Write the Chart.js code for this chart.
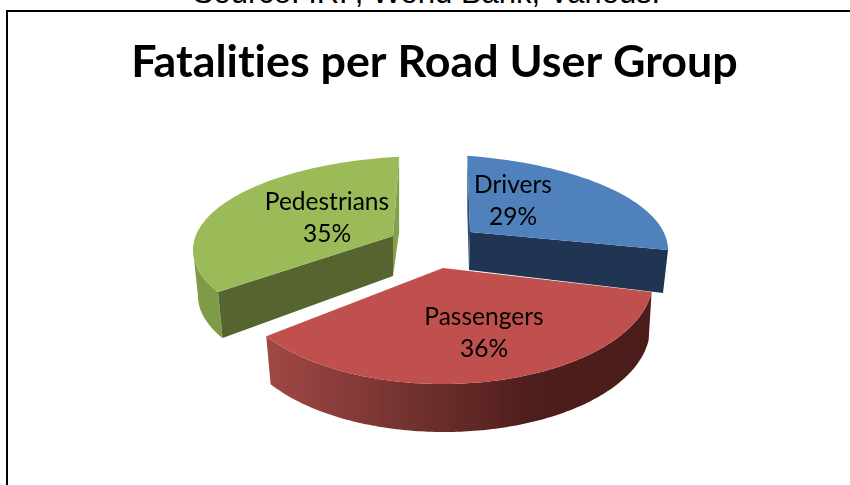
<!DOCTYPE html>
<html>
<head>
<meta charset="utf-8">
<title>Fatalities per Road User Group</title>
<script src="https://cdn.jsdelivr.net/npm/chart.js@4"></script>
<style>
  html, body { margin: 0; padding: 0; background: #fff; overflow: hidden; }
  #page { position: relative; width: 850px; height: 485px; overflow: hidden; }
  #source {
    position: absolute; left: 0; top: -25px; width: 853px; text-align: center;
    font: 31px "Liberation Sans", Arial, sans-serif; color: #000; white-space: nowrap;
  }
  #frame {
    position: absolute; left: 6px; top: 10px; right: -4px; bottom: -4px;
    border: 2px solid #000;
  }
  #pie { position: absolute; left: 0; top: 0; }
</style>
</head>
<body>
<div id="page">
  <div id="source">Source: IRF, World Bank, Various.</div>
  <div id="frame"></div>
  <canvas id="pie" width="850" height="485"></canvas>
</div>
<script>
// Road fatalities by user group, share in percent
const groups = ['Drivers', 'Passengers', 'Pedestrians'];
const shares = [29, 36, 35];
const chartTitle = 'Fatalities per Road User Group';

const topColors = ['#4f81bd', '#c0504d', '#9bbb59'];

// Tilted view of each pulled-out slice: rim ellipse, floor ellipse and where the tip lands.
// stretch/turn map the slice angle from the library onto the foreshortened rim.
const sliceViews = [
  { cx: 420, cy: 250, rx: 248, ry: 96, floorCx: 420, floorCy: 293, floorRx: 243, floorRy: 96,
    tipX: 470, tipY: 232, floorTipX: 469, floorTipY: 270, stretch: 0.757, turn: 11,
    cutEdge: 'end', cutColor: '#1f3552', sideEdge: 'start', sideDrop: 55, sideColor: '#2a4a72',
    wallColor: '#1f3552', labelX: 513, labelY: 185 },
  { cx: 443, cy: 280, rx: 210, ry: 104, floorCx: 444, floorCy: 328, floorRx: 206, floorRy: 104,
    tipX: 443, tipY: 268, floorTipX: 443, floorTipY: 316, stretch: 1.086, turn: -16.8,
    wallColor: 'gradient', labelX: 484, labelY: 317 },
  { cx: 430, cy: 250, rx: 237, ry: 94, floorCx: 430, floorCy: 296, floorRx: 232, floorRy: 94,
    tipX: 393, tipY: 236, floorTipX: 393, floorTipY: 276, stretch: 0.866, turn: 40.76,
    cutEdge: 'start', cutColor: '#566530', sideEdge: 'end', sideDrop: 75, sideColor: '#84a04a',
    wallColor: '#7f9b45', labelX: 327, labelY: 202 }
];
const drawOrder = [0, 2, 1];

const rad = Math.PI / 180;

function rimPhi(view, arcAngle) {
  const fromTop = (arcAngle + Math.PI / 2) / rad;
  return view.turn + view.stretch * fromTop;
}
function onRim(view, phi) {
  return [view.cx + view.rx * Math.sin(phi * rad), view.cy - view.ry * Math.cos(phi * rad)];
}
function onFloor(view, phi) {
  return [view.floorCx + view.floorRx * Math.sin(phi * rad), view.floorCy - view.floorRy * Math.cos(phi * rad)];
}
function fillPath(ctx, pts, color) {
  ctx.beginPath();
  pts.forEach((p, i) => i ? ctx.lineTo(p[0], p[1]) : ctx.moveTo(p[0], p[1]));
  ctx.closePath();
  ctx.fillStyle = color;
  ctx.fill();
}
function sweep(fn, view, from, to) {
  const pts = [];
  const steps = Math.max(2, Math.ceil(Math.abs(to - from)));
  for (let i = 0; i <= steps; i++) pts.push(fn(view, from + (to - from) * i / steps));
  return pts;
}

function drawSlice(ctx, chart, i) {
  const arc = chart.getDatasetMeta(0).data[i];
  const view = sliceViews[i];
  const phiStart = rimPhi(view, arc.startAngle);
  const phiEnd = rimPhi(view, arc.endAngle);

  // outer wall, only the part of the rim facing the viewer
  const wallFrom = Math.max(phiStart, 90);
  const wallTo = Math.min(phiEnd, 270);
  if (wallTo > wallFrom) {
    let wall = view.wallColor;
    if (wall === 'gradient') {
      wall = ctx.createLinearGradient(270, 0, 660, 0);
      wall.addColorStop(0, '#a04744');
      wall.addColorStop(0.29, '#7b3633');
      wall.addColorStop(0.67, '#4e1e1c');
      wall.addColorStop(1, '#4a1c1a');
    }
    fillPath(ctx, sweep(onRim, view, wallFrom, wallTo).concat(sweep(onFloor, view, wallTo, wallFrom)), wall);
  }

  const tip = [view.tipX, view.tipY];
  const floorTip = [view.floorTipX, view.floorTipY];

  // the cut faces left by pulling the slice out
  if (view.cutEdge) {
    const phi = view.cutEdge === 'end' ? phiEnd : phiStart;
    fillPath(ctx, [tip, onRim(view, phi), onFloor(view, phi), floorTip], view.cutColor);
  }
  if (view.sideEdge) {
    const phi = view.sideEdge === 'end' ? phiEnd : phiStart;
    const rim = onRim(view, phi);
    fillPath(ctx, [rim, [rim[0], rim[1] + view.sideDrop], floorTip, tip], view.sideColor);
  }

  // top surface
  fillPath(ctx, [tip].concat(sweep(onRim, view, phiStart, phiEnd)), topColors[i]);
}

// Replaces the flat arcs with the tilted slices, angles still come from the pie's own elements
const tiltedPie = {
  id: 'tiltedPie',
  beforeDraw(chart) {
    // keeps "ti" in the title as two separate letters
    chart.ctx.textRendering = 'optimizeSpeed';
  },
  beforeDatasetsDraw(chart) {
    const ctx = chart.ctx;
    ctx.save();
    drawOrder.forEach(i => drawSlice(ctx, chart, i));

    ctx.fillStyle = '#000';
    ctx.font = '24.5px Lato, "Noto Sans", sans-serif';
    ctx.textAlign = 'center';
    ctx.textBaseline = 'middle';
    groups.forEach((name, i) => {
      const view = sliceViews[i];
      ctx.fillText(name, view.labelX, view.labelY);
      ctx.fillText(shares[i] + '%', view.labelX, view.labelY + 32);
    });
    ctx.restore();
    return false;
  }
};

new Chart(document.getElementById('pie'), {
  type: 'pie',
  data: {
    labels: groups,
    datasets: [{ data: shares, backgroundColor: topColors, borderWidth: 0 }]
  },
  options: {
    responsive: false,
    animation: false,
    layout: { padding: { left: 19 } },
    plugins: {
      legend: { display: false },
      tooltip: { enabled: false },
      title: {
        display: true,
        text: chartTitle,
        color: '#000',
        font: { family: 'Lato, "Noto Sans", sans-serif', size: 44.8, weight: 'bold' },
        padding: { top: 36, bottom: 10 }
      }
    }
  },
  plugins: [tiltedPie]
});
</script>
</body>
</html>
